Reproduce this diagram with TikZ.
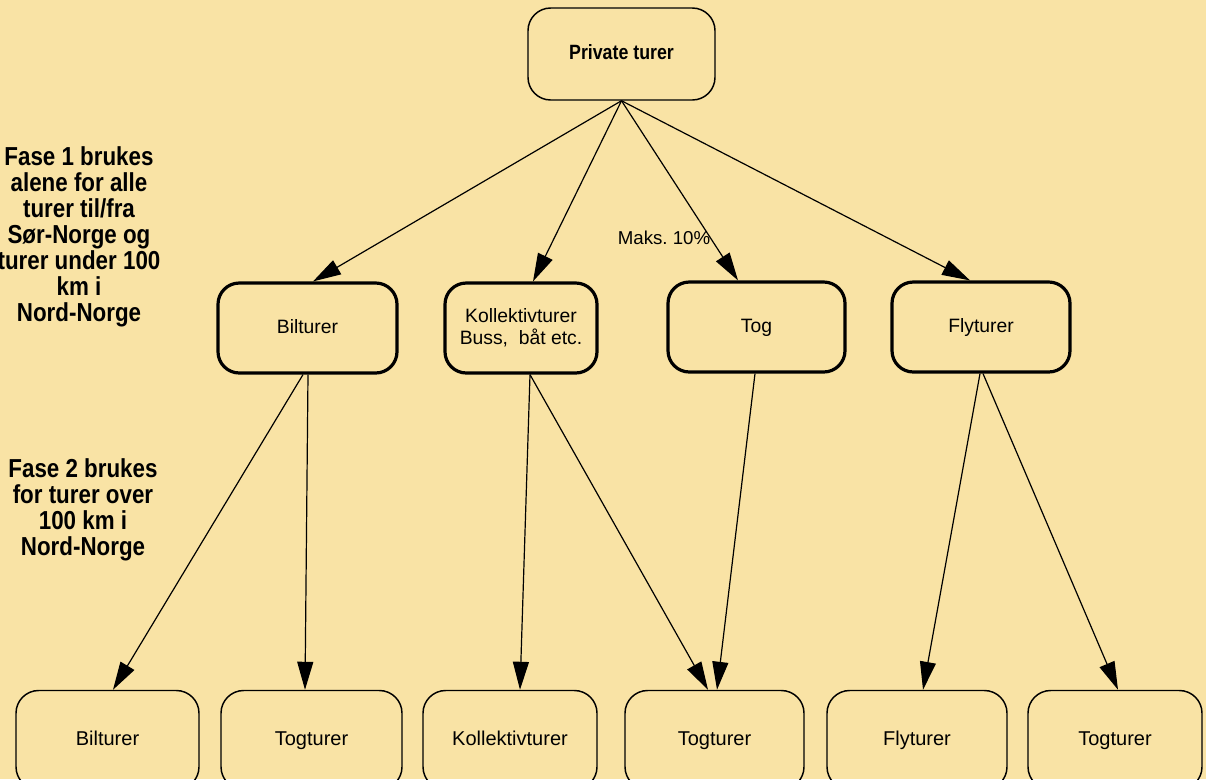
\documentclass[tikz,border=0pt]{standalone}
\usepackage{fontspec}
\setmainfont{Liberation Sans}
\newfontfamily\condfont[FakeStretch=0.86]{Liberation Sans}
\usetikzlibrary{arrows.meta,calc}
\definecolor{bg}{RGB}{249,227,165}
\begin{document}
\begin{tikzpicture}[x=0.75pt,y=-0.75pt,
  thinbox/.style={draw, line width=1.1pt, rounded corners=17pt, align=center, inner sep=0pt, text height=11pt, text depth=3pt, font=\fontsize{15}{17}\selectfont},
  midbox/.style={draw, line width=2.4pt, rounded corners=16pt, align=center, inner sep=0pt, font=\fontsize{14.5}{16.5}\selectfont},
  arr/.style={line width=0.9pt, -{Triangle[length=21pt,width=12pt]}},
  sidetext/.style={align=center, inner sep=0pt, font=\condfont\bfseries\fontsize{19.5}{19.5}\selectfont}]
\fill[bg] (0,0) rectangle (1206,779);
\useasboundingbox (0,0) rectangle (1206,779);
% top
\node[thinbox, minimum width=140.25pt, minimum height=69pt, font=\condfont\bfseries\fontsize{15.5}{17}\selectfont] (top) at (621.5,54) {Private turer};
% middle row
\node[midbox, minimum width=134.25pt, minimum height=67.5pt, text height=10.5pt, text depth=3pt] (bil) at (307.5,328) {Bilturer};
\node[midbox, minimum width=114pt, minimum height=67.5pt] (kol) at (521,328) {Kollektivturer\\Buss,\ \ båt etc.};
\node[midbox, minimum width=132.75pt, minimum height=67.5pt, text height=10.5pt, text depth=3pt] (tog) at (756.5,327) {Tog};
\node[midbox, minimum width=133.5pt, minimum height=67.5pt, text height=10.5pt, text depth=3pt] (fly) at (981,327) {Flyturer};
% bottom row
\node[thinbox, minimum width=137.25pt, minimum height=74.25pt] (b1) at (107.5,740) {Bilturer};
\node[thinbox, minimum width=135.75pt, minimum height=74.25pt] (b2) at (311.5,740) {Togturer};
\node[thinbox, minimum width=130.5pt, minimum height=74.25pt] (b3) at (510,740) {Kollektivturer};
\node[thinbox, minimum width=134.25pt, minimum height=74.25pt] (b4) at (714.5,740) {Togturer};
\node[thinbox, minimum width=135pt, minimum height=74.25pt] (b5) at (917,740) {Flyturer};
\node[thinbox, minimum width=130.5pt, minimum height=74.25pt] (b6) at (1115,740) {Togturer};
% label
\node[font=\fontsize{14}{16}\selectfont, inner sep=0pt] (lbl) at (664,238) {Maks.\ 10\%};
% side texts
\node[sidetext] (f1) at (79,237) {Fase 1 brukes\\alene for alle\\turer til/fra\\Sør-Norge og\\turer under 100\\km i\\Nord-Norge};
\node[sidetext] (f2) at (83,510) {Fase 2 brukes\\for turer over\\100 km i\\Nord-Norge};
% arrows top -> middle
\draw[arr] (top.south) -- ($(bil.north)+(5.5,0)$);
\draw[arr] (top.south) -- ($(kol.north)+(12,0)$);
\draw[arr] (top.south) -- ($(tog.north)+(-18.5,0)$);
\draw[arr] (top.south) -- ($(fly.north)+(-11,0)$);
% middle -> bottom
\draw[arr] ($(bil.south)+(-4.5,0)$) -- ($(b1.north)+(5.5,0)$);
\draw[arr] ($(bil.south)+(0.5,0)$) -- ($(b2.north)+(-6.5,0)$);
\draw[arr] ($(kol.south)+(9,0)$) -- ($(b3.north)+(10,0)$);
\draw[arr] ($(kol.south)+(9,0)$) -- ($(b4.north)+(-6.5,0)$);
\draw[arr] ($(tog.south)+(-1.5,0)$) -- ($(b4.north)+(2.5,0)$);
\draw[arr] ($(fly.south)+(-1,0)$) -- ($(b5.north)+(6,0)$);
\draw[arr] ($(fly.south)+(2,0)$) -- ($(b6.north)+(3,0)$);
\end{tikzpicture}
\end{document}
